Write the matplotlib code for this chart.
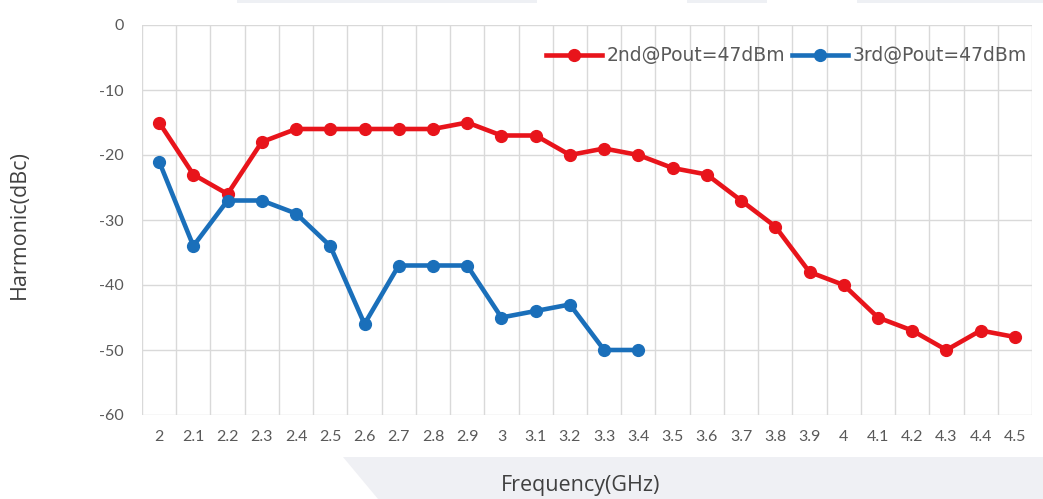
import numpy as np
import matplotlib
matplotlib.use('Agg')
import matplotlib.pyplot as plt
from matplotlib.patches import Polygon, Rectangle

plt.rcParams['axes.unicode_minus'] = False

freqs = ['2', '2.1', '2.2', '2.3', '2.4', '2.5', '2.6', '2.7', '2.8', '2.9',
         '3', '3.1', '3.2', '3.3', '3.4', '3.5', '3.6', '3.7', '3.8', '3.9',
         '4', '4.1', '4.2', '4.3', '4.4', '4.5']
second = [-15, -23, -26, -18, -16, -16, -16, -16, -16, -15,
          -17, -17, -20, -19, -20, -22, -23, -27, -31, -38,
          -40, -45, -47, -50, -47, -48]
third = [-21, -34, -27, -27, -29, -34, -46, -37, -37, -37,
         -45, -44, -43, -50, -50]

RED = '#e8141b'
BLUE = '#1a6fba'
GRID = '#d9d9d9'
TICK = '#595959'

W, H = 1043, 499
fig = plt.figure(figsize=(W / 100, H / 100), dpi=100)

# faded background shapes
bg = fig.add_axes([0, 0, 1, 1], zorder=0)
bg.set_xlim(0, W)
bg.set_ylim(H, 0)
bg.axis('off')
for x0, x1 in [(237, 537), (687, 767), (857, 1043)]:
    bg.add_patch(Rectangle((x0, 0), x1 - x0, 3, color='#eef0f4', lw=0))
bg.add_patch(Polygon([(343, 457), (W, 457), (W, H), (378, H)],
                     closed=True, color='#eff0f4', lw=0))

left, right, top, bottom = 142, 1032, 25, 415
ax = fig.add_axes([left / W, 1 - bottom / H, (right - left) / W, (bottom - top) / H],
                  zorder=1)
ax.patch.set_alpha(0)

x = np.arange(len(freqs))
ax.plot(x, second, color=RED, lw=3.3, marker='o', ms=8.5,
        label='2nd@Pout=47dBm', zorder=3)
ax.plot(x[:len(third)], third, color=BLUE, lw=3.3, marker='o', ms=8.5,
        label='3rd@Pout=47dBm', zorder=3)

ax.set_xlim(-0.5, len(freqs) - 0.5)
ax.set_ylim(-60, 0)
ax.set_yticks(np.arange(-60, 1, 10))
ax.set_xticks(x)
ax.set_xticklabels(freqs)
ax.set_xticks(np.arange(-0.5, len(freqs)), minor=True)
ax.grid(True, which='minor', axis='x', color=GRID, lw=1.0)
ax.grid(True, which='major', axis='y', color=GRID, lw=1.0)
ax.tick_params(which='both', length=0)
ax.tick_params(axis='x', pad=11, labelsize=11.5, labelcolor=TICK)
ax.tick_params(axis='y', pad=13, labelsize=11.5, labelcolor=TICK)
for lab in ax.get_xticklabels() + ax.get_yticklabels():
    lab.set_family('Lato')
for s in ax.spines.values():
    s.set_visible(False)

leg = ax.legend(loc='upper right', ncol=2, frameon=False, fontsize=13.5,
                bbox_to_anchor=(1.003, 0.965), handlelength=3.0,
                handletextpad=0.25, columnspacing=0.35, borderaxespad=0)
for t in leg.get_texts():
    t.set_color(TICK)
    t.set_family('DejaVu Sans')

fig.text(19 / W, 1 - 225 / H, 'Harmonic(dBc)', rotation=90, ha='center',
         va='center', fontsize=15.5, color='#404040', family='Open Sans')
fig.text(581 / W, 1 - 485 / H, 'Frequency(GHz)', ha='center', va='center',
         fontsize=15.5, color='#404040', family='Open Sans')

fig.savefig('out.png', dpi=100)
